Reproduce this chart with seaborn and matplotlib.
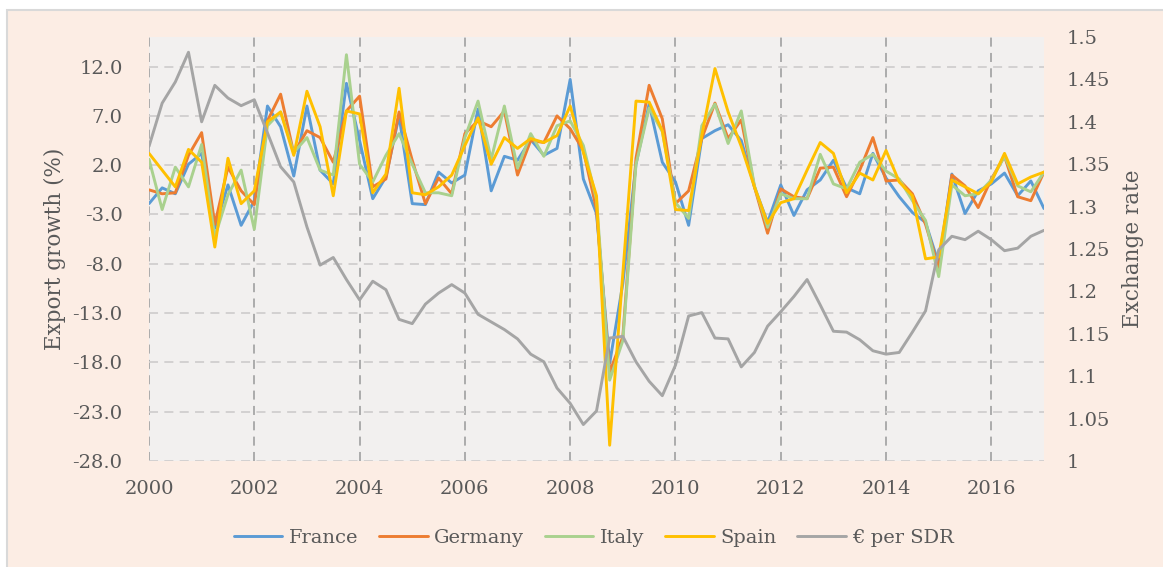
import numpy as np
import matplotlib
matplotlib.use("Agg")
import matplotlib.pyplot as plt
import matplotlib.patches as mpatches
from matplotlib.ticker import FuncFormatter
import seaborn as sns

# quarterly observations, 2000Q1 .. 2017Q1
quarters = 2000 + np.arange(69) / 4

france = [-1.9, -0.3, -0.9, 2.1, 3.2, -4.4, 0.0, -4.1, -1.6, 8.0, 5.9, 0.9, 8.0, 1.5, 0.1,
          10.3, 4.5, -1.4, 0.8, 7.0, -1.9, -2.0, 1.3, 0.2, 1.0, 7.7, -0.6, 2.9, 2.5, 4.6,
          3.0, 3.7, 10.7, 0.6, -2.9, -18.1, -10.0, 2.1, 8.2, 2.3, 0.3, -4.1, 4.7, 5.5, 6.1,
          4.5, -0.2, -3.8, 0.0, -3.1, -0.5, 0.5, 2.5, -0.3, -0.9, 3.2, 0.7, -1.2, -2.8, -3.8,
          -8.0, 1.1, -2.9, -0.6, 0.1, 1.2, -1.1, 0.4, -2.4]
germany = [-0.5, -0.9, -0.8, 3.0, 5.3, -4.0, 1.8, -0.6, -2.0, 6.5, 9.2, 3.2, 5.5, 4.8, 2.3,
           7.5, 9.0, -0.2, 0.6, 7.4, 2.5, -1.9, 0.7, -0.9, 5.2, 6.5, 5.9, 7.5, 1.0, 4.5,
           4.3, 7.0, 5.7, 3.5, -2.5, -19.0, -15.4, 2.7, 10.1, 6.7, -1.9, -0.6, 4.7, 8.3, 4.7,
           6.6, -0.2, -4.9, -0.4, -1.2, -1.4, 1.7, 1.8, -1.2, 1.5, 4.8, 0.4, 0.5, -0.9, -4.0,
           -8.4, 1.0, -0.1, -2.3, 0.6, 2.9, -1.2, -1.6, 1.3]
italy = [2.6, -2.5, 1.8, -0.2, 4.1, -5.3, -1.0, 1.5, -4.5, 6.0, 7.4, 3.3, 4.8, 1.5, 1.0,
         13.2, 2.1, 0.3, 3.0, 5.2, 2.1, -0.8, -0.8, -1.1, 4.8, 8.5, 2.6, 8.0, 1.7, 5.2,
         2.9, 6.0, 6.5, 4.0, -1.5, -19.8, -15.8, 2.1, 7.8, 5.4, -1.8, -3.4, 6.0, 8.2, 4.2,
         7.5, -0.1, -4.3, -0.9, -1.4, -1.4, 3.1, 0.1, -0.4, 2.3, 3.1, 1.4, 0.6, -1.6, -3.6,
         -9.3, 0.0, -1.1, -0.9, 0.5, 2.9, -0.1, -0.7, 1.3]
spain = [3.2, 1.5, -0.2, 3.6, 2.3, -6.3, 2.7, -1.9, -0.6, 6.4, 7.4, 3.0, 9.5, 5.9, -1.1,
         7.5, 7.2, -0.8, 1.1, 9.8, -0.8, -1.0, -0.2, 1.0, 4.0, 6.8, 2.1, 4.8, 3.7, 4.7,
         4.3, 5.0, 8.0, 3.3, -1.1, -26.4, -9.0, 8.5, 8.4, 5.5, -2.5, -2.6, 5.0, 11.8, 7.4,
         3.9, -0.2, -3.9, -1.8, -1.4, 1.5, 4.3, 3.2, -0.8, 1.2, 0.5, 3.5, 0.3, -1.1, -7.5,
         -7.3, 0.5, -0.2, -0.9, 0.3, 3.2, 0.1, 0.8, 1.3]
eur_sdr = [1.371, 1.422, 1.447, 1.482, 1.400, 1.443, 1.428, 1.419, 1.426, 1.387, 1.347, 1.329,
           1.276, 1.231, 1.240, 1.214, 1.190, 1.212, 1.202, 1.167, 1.162, 1.185, 1.198, 1.208,
           1.198, 1.173, 1.164, 1.155, 1.144, 1.126, 1.117, 1.086, 1.068, 1.043, 1.059, 1.145,
           1.147, 1.117, 1.094, 1.077, 1.113, 1.171, 1.175, 1.145, 1.144, 1.111, 1.128, 1.159,
           1.176, 1.194, 1.214, 1.184, 1.153, 1.152, 1.143, 1.130, 1.126, 1.128, 1.152, 1.177,
           1.249, 1.265, 1.261, 1.271, 1.261, 1.248, 1.251, 1.265, 1.272]

left_ticks = [-28, -23, -18, -13, -8, -3, 2, 7, 12]
right_ticks = [1, 1.05, 1.1, 1.15, 1.2, 1.25, 1.3, 1.35, 1.4, 1.45, 1.5]
year_ticks = [2000, 2002, 2004, 2006, 2008, 2010, 2012, 2014, 2016]

txt = "#595959"
sns.set_style("white")
plt.rcParams["font.family"] = ["DejaVu Serif"]

fig = plt.figure(figsize=(11.63, 5.67), dpi=100, facecolor="white")
bg = mpatches.Rectangle((7 / 1163, -0.1), 1.2, 1.1 - 10 / 567, transform=fig.transFigure,
                        facecolor="#FCEDE4", edgecolor="#D9D9D9", lw=1.5, zorder=-10)
fig.patches.append(bg)

ax = fig.add_axes([149 / 1163, 1 - 461 / 567, 895 / 1163, 424 / 567])
ax.set_facecolor("#F2F0EF")
ax2 = ax.twinx()

series = [("France", france, "#5B9BD5"), ("Germany", germany, "#ED7D31"),
          ("Italy", italy, "#A9D18E"), ("Spain", spain, "#FFC000")]
for name, vals, col in series:
    sns.lineplot(x=quarters, y=vals, color=col, lw=2.1, label=name, ax=ax)
sns.lineplot(x=quarters, y=eur_sdr, color="#A5A5A5", lw=2.1, label="€ per SDR", ax=ax2)

h1, l1 = ax.get_legend_handles_labels()
h2, l2 = ax2.get_legend_handles_labels()
ax.get_legend().remove()
ax2.get_legend().remove()

ax.set_xlim(2000, 2017)
ax.set_ylim(-28, 15)
ax.set_xticks(year_ticks)
ax.set_yticks(left_ticks)
ax.yaxis.set_major_formatter(FuncFormatter(lambda v, p: f"{v:.1f}"))
ax2.set_ylim(1, 1.5)
ax2.set_yticks(right_ticks)
ax2.yaxis.set_major_formatter(FuncFormatter(lambda v, p: f"{v:g}"))

ax.xaxis.grid(True, color="#A6A6A6", lw=1.3, ls=(0, (5, 3.5)))
ax.yaxis.grid(True, color="#D0CECE", lw=1.3, ls=(0, (5, 3.5)))
ax.set_axisbelow(True)
for a in (ax, ax2):
    for s in a.spines.values():
        s.set_visible(False)

ax.tick_params(axis="y", length=0, pad=19, labelsize=14, labelcolor=txt)
ax.tick_params(axis="x", length=0, pad=14, labelsize=14, labelcolor=txt)
ax2.tick_params(axis="y", length=0, pad=16, labelsize=14, labelcolor=txt)

ax.set_xlabel("")
ax.set_ylabel("Export growth (%)", fontsize=15.5, color=txt)
ax2.set_ylabel("Exchange rate", fontsize=15.5, color=txt)
ax.yaxis.set_label_coords(-0.093, 0.5)
ax2.yaxis.set_label_coords(1.087, 0.5)

fig.legend(h1 + h2, l1 + l2, loc="center", ncol=5, frameon=False,
           bbox_to_anchor=(594 / 1163, 1 - 538 / 567), fontsize=14,
           handlelength=2.5, columnspacing=1.05, handletextpad=0.35, labelcolor=txt)

fig.savefig("out.png", dpi=100, facecolor="white")
